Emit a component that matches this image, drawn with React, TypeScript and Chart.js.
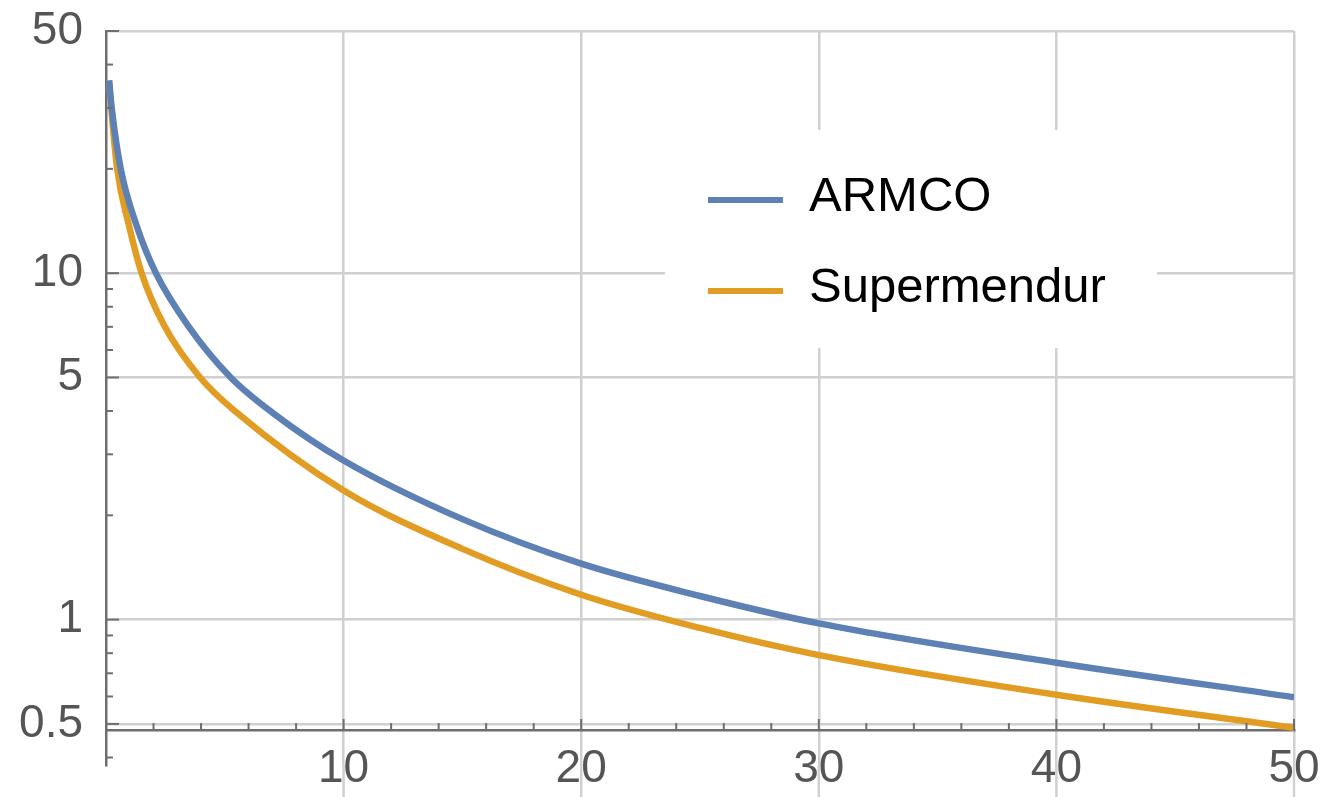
import React, { useEffect, useRef } from "react";
import { Chart, registerables } from "chart.js";

Chart.register(...registerables);

// ---------- data ----------
const SERIES_NAMES = ["ARMCO", "Supermendur"];
const SERIES_COLORS = ["#5e81b5", "#e19c24"];

const ARMCO_X = [0.13, 0.24, 0.62, 1.29, 2.1, 3.45, 5.25, 7.0, 10, 15, 20, 25, 30, 40, 50];
const ARMCO_Y = [36, 30, 20, 13.7, 10, 7.06, 5, 3.96, 2.88, 1.95, 1.45, 1.17, 0.975, 0.751, 0.597];

const SUPER_X = [0.13, 0.22, 0.47, 0.97, 1.5, 2.45, 3.96, 5.5, 10, 15, 20, 25, 30, 40, 50];
const SUPER_Y = [36, 30, 20, 13.7, 10, 7.06, 5, 3.96, 2.36, 1.6, 1.18, 0.946, 0.79, 0.607, 0.487];

const Y_MAJOR_TICKS = [0.5, 1, 5, 10, 50];
const Y_MINOR_TICKS = [0.4, 0.6, 0.7, 0.8, 0.9, 2, 3, 4, 6, 7, 8, 9, 20, 30, 40];
const X_MAJOR_TICKS = [10, 20, 30, 40, 50];
const X_MINOR_TICKS = [2, 4, 6, 8, 12, 14, 16, 18, 22, 24, 26, 28, 32, 34, 36, 38, 42, 44, 46, 48];

const X_MIN = 0;
const X_MAX = 50;
const Y_MIN = 0.3805;
const Y_MAX = 50;
const X_AXIS_AT = 0.48;

// ---------- styles ----------
const FONT_FAMILY = "'Liberation Sans', Arial, sans-serif";
const GRID_COLOR = "#d0d0d0";
const AXIS_COLOR = "#6e6e6e";
const TICK_LABEL_COLOR = "#555555";

const toPoints = (xs: number[], ys: number[]) => xs.map((x, i) => ({ x, y: ys[i] }));

const axisTicksPlugin = {
  id: "axisTicks",
  beforeDraw(chart: any) {
    // extend vertical grid lines below the plot region
    const { ctx, chartArea, scales } = chart;
    ctx.save();
    ctx.strokeStyle = GRID_COLOR;
    ctx.lineWidth = 2.5;
    for (const v of X_MAJOR_TICKS) {
      const px = scales.x.getPixelForValue(v);
      ctx.beginPath();
      ctx.moveTo(px, chartArea.bottom);
      ctx.lineTo(px, chart.height);
      ctx.stroke();
    }
    ctx.restore();
  },
  afterDraw(chart: any) {
    const { ctx, chartArea, scales } = chart;
    const xs = scales.x;
    const ys = scales.y;
    ctx.save();
    ctx.strokeStyle = AXIS_COLOR;
    ctx.lineWidth = 2;
    const left = chartArea.left;
    const drawY = (v: number, len: number) => {
      const py = ys.getPixelForValue(v);
      ctx.beginPath();
      ctx.moveTo(left, py);
      ctx.lineTo(left + len, py);
      ctx.stroke();
    };
    Y_MAJOR_TICKS.forEach((v) => drawY(v, 13));
    Y_MINOR_TICKS.forEach((v) => drawY(v, 7));
    const axisY = ys.getPixelForValue(X_AXIS_AT);
    const drawX = (v: number, len: number) => {
      const px = xs.getPixelForValue(v);
      ctx.beginPath();
      ctx.moveTo(px, axisY);
      ctx.lineTo(px, axisY - len);
      ctx.stroke();
    };
    X_MAJOR_TICKS.forEach((v) => drawX(v, 11));
    X_MINOR_TICKS.forEach((v) => drawX(v, 7));
    ctx.restore();

    // legend
    const boxL = 665, boxT = 130, boxR = 1157, boxB = 348;
    ctx.save();
    ctx.fillStyle = "#ffffff";
    ctx.fillRect(boxL, boxT, boxR - boxL, boxB - boxT);
    const rows = [200, 291];
    chart.data.datasets.forEach((ds: any, i: number) => {
      const y = rows[i];
      ctx.strokeStyle = ds.borderColor;
      ctx.lineWidth = 6;
      ctx.beginPath();
      ctx.moveTo(708, y);
      ctx.lineTo(783, y);
      ctx.stroke();
      ctx.fillStyle = "#000000";
      ctx.font = `49px ${FONT_FAMILY}`;
      ctx.textAlign = "left";
      ctx.textBaseline = "middle";
      ctx.fillText(ds.label, 809, y - 3);
    });
    ctx.restore();
  },
};

export default function App() {
  const canvasRef = useRef<HTMLCanvasElement | null>(null);

  useEffect(() => {
    const canvas = canvasRef.current;
    if (!canvas) return;
    Chart.defaults.font.family = FONT_FAMILY;
    const chart = new Chart(canvas, {
      type: "line",
      data: {
        datasets: [
          {
            label: SERIES_NAMES[0],
            data: toPoints(ARMCO_X, ARMCO_Y),
            borderColor: SERIES_COLORS[0],
            backgroundColor: SERIES_COLORS[0],
            borderWidth: 6.5,
            pointRadius: 0,
            cubicInterpolationMode: "monotone",
            fill: false,
          },
          {
            label: SERIES_NAMES[1],
            data: toPoints(SUPER_X, SUPER_Y),
            borderColor: SERIES_COLORS[1],
            backgroundColor: SERIES_COLORS[1],
            borderWidth: 6.5,
            pointRadius: 0,
            cubicInterpolationMode: "monotone",
            fill: false,
          },
        ],
      },
      options: {
        animation: false,
        responsive: false,
        events: [],
        layout: { padding: { left: 0, top: 31, right: 31, bottom: 32 } },
        plugins: { legend: { display: false }, tooltip: { enabled: false } },
        scales: {
          x: {
            type: "linear",
            min: X_MIN,
            max: X_MAX,
            position: { y: X_AXIS_AT } as any,
            afterBuildTicks: (s: any) => {
              s.ticks = X_MAJOR_TICKS.map((v) => ({ value: v }));
            },
            afterFit: (s: any) => {
              s.paddingLeft = 0;
              s.paddingRight = 0;
            },
            grid: { color: GRID_COLOR, lineWidth: 2.5, drawTicks: false },
            border: { display: true, color: AXIS_COLOR, width: 2.5 },
            ticks: {
              color: TICK_LABEL_COLOR,
              font: { size: 46, family: FONT_FAMILY },
              padding: 12,
              maxRotation: 0,
              autoSkip: false,
              callback: (v: any) => String(v),
            },
          },
          y: {
            type: "logarithmic",
            min: Y_MIN,
            max: Y_MAX,
            position: "left",
            afterBuildTicks: (s: any) => {
              s.ticks = Y_MAJOR_TICKS.map((v) => ({ value: v }));
            },
            afterFit: (s: any) => {
              s.width = 106;
              s.paddingTop = 0;
              s.paddingBottom = 0;
            },
            grid: { color: GRID_COLOR, lineWidth: 2.5, drawTicks: false },
            border: { display: true, color: AXIS_COLOR, width: 2.5 },
            ticks: {
              color: TICK_LABEL_COLOR,
              font: { size: 46, family: FONT_FAMILY },
              padding: 23,
              autoSkip: false,
              callback: (v: any) => String(v),
            },
          },
        },
      },
      plugins: [axisTicksPlugin],
    } as any);
    return () => chart.destroy();
  }, []);

  return (
    <div style={{ position: "fixed", left: 0, top: 0, width: 1325, height: 797, background: "#ffffff" }}>
      <canvas ref={canvasRef} width={1325} height={797} style={{ display: "block" }} />
    </div>
  );
}
